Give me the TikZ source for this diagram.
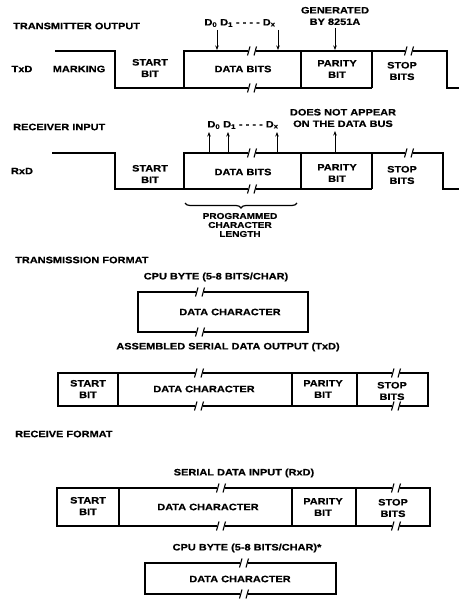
\documentclass[tikz,border=0pt]{standalone}
\usepackage{fontspec}
\setmainfont[FakeStretch=1.18, BoldFeatures={FakeBold=0.5}]{Liberation Sans}
\usetikzlibrary{arrows.meta,decorations.pathreplacing}
\newcommand\brkmark[2]{\draw[brk] (#1-4.5,#2+4.5) -- (#1-2,#2-4.5); \draw[brk] (#1+2,#2+4.5) -- (#1+4.5,#2-4.5);}
\begin{document}
\begin{tikzpicture}[x=1pt,y=-1pt,
  wave/.style={line width=1.7pt},
  lbl/.style={font=\fontsize{9.3}{11.5}\selectfont\bfseries, inner sep=0pt, align=center},
  hdr/.style={lbl, anchor=west},
  arr/.style={line width=1pt, -{Stealth[length=4.5pt,width=3.5pt]}},
  brk/.style={line width=1.1pt}]
\useasboundingbox (0,0) rectangle (459,599);

% ---------- TRANSMITTER OUTPUT ----------
\node[hdr] (h1) at (13,26) {TRANSMITTER OUTPUT};
\draw[wave] (55,51) -- (115,51) -- (115,88) -- (184,88) -- (184,51) -- (248,51);
\draw[wave] (256,51) -- (405,51);
\draw[wave] (413,51) -- (447,51) -- (447,88) -- (459,88);
\draw[wave] (184,88) -- (248,88);
\draw[wave] (256,88) -- (372,88);
\draw[wave] (301,51) -- (301,88);
\draw[wave] (372,51) -- (372,88);
\brkmark{252}{51} \brkmark{252}{88} \brkmark{409}{51}
\node[lbl] (txd) at (22,69) {TxD};
\node[lbl] (mark) at (79,69) {MARKING};
\node[lbl] (st1) at (150,68) {START\\BIT};
\node[lbl] (db1) at (243,69) {DATA BITS};
\node[lbl] (pb1) at (337,69) {PARITY\\BIT};
\node[lbl] (sb1) at (402,71) {STOP\\BITS};
\node[lbl] (gen) at (335,16) {GENERATED\\BY 8251A};
\node[lbl] (dtx) at (240,23) {D\textsubscript{0} D\textsubscript{1} - - - - D\textsubscript{x}};
\coordinate (ta1) at (217,30); \coordinate (tb1) at (217,50);
\coordinate (ta2) at (278,30); \coordinate (tb2) at (278,50);
\coordinate (ta3) at (335,28); \coordinate (tb3) at (335,50);
\draw[arr] (ta1) -- (tb1);
\draw[arr] (ta2) -- (tb2);
\draw[arr] (ta3) -- (tb3);

% ---------- RECEIVER INPUT ----------
\node[hdr] (h2) at (13,127) {RECEIVER INPUT};
\draw[wave] (52,153) -- (115,153) -- (115,189) -- (184,189) -- (184,153) -- (248,153);
\draw[wave] (256,153) -- (405,153);
\draw[wave] (413,153) -- (443,153) -- (443,189) -- (459,189);
\draw[wave] (184,189) -- (248,189);
\draw[wave] (256,189) -- (372,189);
\draw[wave] (301,153) -- (301,189);
\draw[wave] (372,153) -- (372,189);
\brkmark{252}{153} \brkmark{252}{189} \brkmark{409}{153}
\node[lbl] (rxd) at (22,171) {RxD};
\node[lbl] (st2) at (150,174) {START\\BIT};
\node[lbl] (db2) at (243,172) {DATA BITS};
\node[lbl] (pb2) at (337,173) {PARITY\\BIT};
\node[lbl] (sb2) at (402,175) {STOP\\BITS};
\node[lbl] (drx) at (243,125) {D\textsubscript{0} D\textsubscript{1} - - - - D\textsubscript{x}};
\node[lbl] (dna) at (343,118) {DOES NOT APPEAR\\ON THE DATA BUS};
\coordinate (ra1) at (209,152); \coordinate (rb1) at (209,132);
\coordinate (ra2) at (228,152); \coordinate (rb2) at (228,132);
\coordinate (ra3) at (277,152); \coordinate (rb3) at (277,132);
\coordinate (ra4) at (335,152); \coordinate (rb4) at (335,131);
\draw[arr] (ra1) -- (rb1);
\draw[arr] (ra2) -- (rb2);
\draw[arr] (ra3) -- (rb3);
\draw[arr] (ra4) -- (rb4);
\coordinate (bra) at (185,203); \coordinate (brb) at (297,203);
\draw[line width=1.2pt, decorate, decoration={brace, amplitude=5pt}] (brb) -- (bra);
\node[lbl, font=\fontsize{8.5}{9}\selectfont\bfseries] (pcl) at (240,225) {PROGRAMMED\\CHARACTER\\LENGTH};

% ---------- TRANSMISSION FORMAT ----------
\node[hdr] (h3) at (15,260) {TRANSMISSION FORMAT};
\node[lbl] (cpu1) at (216,277) {CPU BYTE (5-8 BITS/CHAR)};
\draw[wave] (196,292) -- (138,292) -- (138,332) -- (196,332);
\draw[wave] (204,292) -- (308,292) -- (308,332) -- (204,332);
\brkmark{200}{292} \brkmark{200}{332}
\node[lbl] (dc1) at (230,312) {DATA CHARACTER};

\node[lbl] (aso) at (228,347) {ASSEMBLED SERIAL DATA OUTPUT (TxD)};
\draw[wave] (195,373) -- (58,373) -- (58,406) -- (195,406);
\draw[wave] (203,373) -- (392,373);
\draw[wave] (203,406) -- (392,406);
\draw[wave] (400,373) -- (428,373) -- (428,406) -- (400,406);
\draw[wave] (118,373) -- (118,406);
\draw[wave] (292,373) -- (292,406);
\draw[wave] (357,373) -- (357,406);
\brkmark{199}{373} \brkmark{199}{406} \brkmark{396}{373} \brkmark{396}{406}
\node[lbl] (st3) at (88,389) {START\\BIT};
\node[lbl] (dc2) at (204,389) {DATA CHARACTER};
\node[lbl] (pb3) at (323,389) {PARITY\\BIT};
\node[lbl] (sb3) at (392,391) {STOP\\BITS};

% ---------- RECEIVE FORMAT ----------
\node[hdr] (h4) at (15,434) {RECEIVE FORMAT};
\node[lbl] (sdi) at (244,473) {SERIAL DATA INPUT (RxD)};
\draw[wave] (217,488) -- (57,488) -- (57,526) -- (217,526);
\draw[wave] (225,488) -- (392,488);
\draw[wave] (225,526) -- (392,526);
\draw[wave] (400,488) -- (430,488) -- (430,526) -- (400,526);
\draw[wave] (119,488) -- (119,526);
\draw[wave] (292,488) -- (292,526);
\draw[wave] (356,488) -- (356,526);
\brkmark{221}{488} \brkmark{221}{526} \brkmark{396}{488} \brkmark{396}{526}
\node[lbl] (st4) at (88,506) {START\\BIT};
\node[lbl] (dc3) at (208,507) {DATA CHARACTER};
\node[lbl] (pb4) at (323,507) {PARITY\\BIT};
\node[lbl] (sb4) at (393,508) {STOP\\BITS};

\node[lbl] (cpu2) at (247,548) {CPU BYTE (5-8 BITS/CHAR)*};
\draw[wave] (240,563) -- (145,563) -- (145,594) -- (240,594);
\draw[wave] (248,563) -- (336,563) -- (336,594) -- (248,594);
\brkmark{244}{563} \brkmark{244}{594}
\node[lbl] (dc4) at (240,579) {DATA CHARACTER};
\end{tikzpicture}
\end{document}
